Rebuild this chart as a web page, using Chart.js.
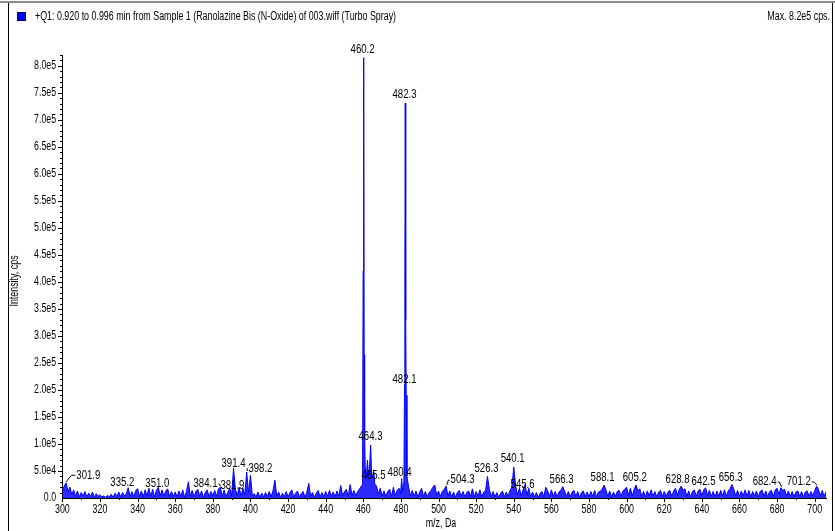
<!DOCTYPE html>
<html>
<head>
<meta charset="utf-8">
<script src="https://cdn.jsdelivr.net/npm/chart.js@4.4.1/dist/chart.umd.min.js"></script>
<style>
  html, body { margin: 0; padding: 0; background: #fff; }
  #wrap { position: relative; width: 835px; height: 531px; }
</style>
</head>
<body>
<div id="wrap"><canvas id="myChart" width="835" height="531"></canvas></div>
<script>
// spectrum baseline, one value per Da from 300 to 706, in thousands of cps
const noiseStart = 300;
const noise = [
    14, 22, 28, 12, 20, 6, 15, 3, 13, 2, 10, 4, 12, 2, 9, 3, 11, 1, 8, 3,
    6, 2, 4, 1, 5, 2, 7, 1, 9, 3, 11, 2, 10, 4, 8, 19, 3, 12, 2, 14,
    17, 3, 13, 2, 15, 4, 18, 3, 16, 2, 14, 20, 4, 15, 3, 13, 17, 2, 12, 3,
    11, 2, 13, 3, 15, 1, 12, 30, 3, 14, 2, 12, 16, 3, 13, 1, 10, 15, 2, 12,
    4, 14, 3, 17, 20, 3, 15, 2, 11, 18, 4, 55, 16, 5, 20, 3, 18, 6, 48, 9,
    42, 4, 8, 2, 11, 1, 9, 2, 10, 3, 12, 2, 14, 33, 3, 11, 1, 9, 2, 12,
    2, 10, 15, 1, 9, 13, 2, 8, 12, 1, 11, 27, 3, 10, 1, 9, 14, 2, 10, 3,
    12, 3, 14, 4, 11, 2, 13, 3, 23, 4, 12, 16, 3, 25, 5, 14, 4, 12, 17, 22,
    10, 60, 70, 55, 98, 52, 30, 22, 8, 18, 4, 13, 3, 12, 16, 3, 20, 5, 14, 18,
    35, 20, 300, 45, 22, 4, 14, 3, 13, 2, 11, 18, 3, 12, 2, 10, 14, 20, 24, 5,
    13, 3, 12, 16, 22, 4, 13, 2, 11, 1, 10, 14, 3, 12, 2, 10, 13, 3, 17, 2,
    12, 3, 15, 2, 11, 14, 40, 16, 3, 12, 2, 10, 1, 9, 13, 2, 11, 3, 14, 20,
    57, 22, 6, 18, 4, 16, 25, 5, 18, 2, 11, 2, 10, 1, 9, 12, 2, 20, 13, 3,
    15, 3, 12, 2, 11, 14, 21, 13, 3, 12, 2, 11, 14, 3, 12, 1, 10, 13, 2, 11,
    2, 12, 3, 14, 2, 11, 13, 16, 24, 15, 3, 13, 2, 11, 3, 12, 14, 3, 13, 16,
    20, 5, 18, 4, 16, 24, 13, 17, 3, 12, 2, 13, 4, 15, 3, 12, 2, 11, 14, 3,
    12, 3, 11, 14, 3, 13, 18, 5, 16, 22, 14, 17, 3, 13, 2, 12, 15, 3, 13, 16,
    4, 15, 19, 5, 14, 3, 12, 2, 13, 3, 14, 4, 15, 3, 13, 17, 25, 16, 4, 14,
    3, 13, 4, 15, 3, 14, 2, 12, 4, 13, 2, 12, 15, 3, 13, 2, 12, 14, 3, 15,
    18, 6, 19, 14, 16, 4, 13, 3, 12, 2, 11, 13, 3, 12, 2, 11, 13, 3, 12, 4,
    14, 22, 16, 4, 14, 3, 12
];

// profile points of the big peaks (m/z, thousands of cps)
const peakMz = [459.6, 459.9, 460.2, 460.45, 460.7, 461.0, 461.6, 462.2, 462.8, 463.3, 463.9, 464.4, 465.0, 465.5, 466.1,
    479.8, 480.4, 480.9, 481.6, 481.9, 482.1, 482.3, 482.55, 482.8, 483.2];
const peakK = [25, 420, 815, 265, 120, 60, 35, 70, 40, 55, 98, 45, 38, 52, 26,
    8, 36, 12, 30, 210, 420, 731, 330, 190, 40];

// peak labels: text, where the label sits (m/z, thousands of cps at its bottom)
const labelText = ["460.2", "482.3", "482.1", "464.3", "465.5", "480.4", "301.9", "335.2", "351.0", "384.1", "381.9",
    "391.4", "398.2", "504.3", "526.3", "540.1", "545.6", "566.3", "588.1", "605.2", "628.8", "642.5", "656.3", "682.4", "701.2"];
const labelMz = [459.6, 481.9, 481.9, 463.8, 465.4, 479.3, 313.8, 331.9, 350.5, 376.1, 390.4,
    391.0, 405.3, 512.8, 525.5, 539.4, 544.7, 565.4, 587.2, 604.3, 627.1, 640.9, 655.3, 673.4, 691.5];
const labelK = [819, 735, 207, 102, 31, 35, 31, 17, 15, 15, 11,
    52, 44, 22, 44, 61, 13, 22, 26, 26, 22, 18.5, 26, 18.5, 18.5];

// labels that point at their peak with a small leader line
const leaderLabel = ["301.9", "384.1", "398.2", "504.3", "682.4", "701.2"];
const leaderMz = [301.9, 384.1, 398.2, 504.3, 682.4, 701.2];
const leaderK = [28, 20, 48, 22, 19, 22];

const xTicks = [300, 320, 340, 360, 380, 400, 420, 440, 460, 480, 500, 520, 540, 560, 580, 600, 620, 640, 660, 680, 700];
const yTicks = [0, 50000, 100000, 150000, 200000, 250000, 300000, 350000, 400000, 450000, 500000,
    550000, 600000, 650000, 700000, 750000, 800000];
const yTickLabels = ["0.0", "5.0e4", "1.0e5", "1.5e5", "2.0e5", "2.5e5", "3.0e5", "3.5e5", "4.0e5", "4.5e5", "5.0e5",
    "5.5e5", "6.0e5", "6.5e5", "7.0e5", "7.5e5", "8.0e5"];

const FONT = '"Liberation Sans", Arial, sans-serif';

let points = [];
noise.forEach(function (k, i) {
    let mz = noiseStart + i;
    let nearPeak = peakMz.some(p => Math.abs(p - mz) < 0.55);
    if (!nearPeak) {
        points.push({ x: mz, y: k * 1000 });
    }
});
peakMz.forEach(function (mz, i) {
    points.push({ x: mz, y: peakK[i] * 1000 });
});
points.sort((a, b) => a.x - b.x);

// narrow text helper, the original uses a condensed face
function narrowText(ctx, text, x, y, align, size, sx) {
    ctx.save();
    ctx.font = size + 'px ' + FONT;
    ctx.translate(x, y);
    ctx.scale(sx, 1);
    ctx.textAlign = align;
    ctx.fillText(text, 0, 0);
    ctx.restore();
}

// frame, header, axis texts, ticks and peak labels
const decorations = {
    id: 'decorations',
    afterDraw(chart) {
        const ctx = chart.ctx;
        const xs = chart.scales.x;
        const ys = chart.scales.y;
        const area = chart.chartArea;
        ctx.save();

        // frame
        ctx.strokeStyle = '#8a8a8a';
        ctx.lineWidth = 2;
        ctx.beginPath();
        ctx.moveTo(0, 2);
        ctx.lineTo(835, 2);
        ctx.stroke();
        ctx.strokeStyle = '#000';
        ctx.lineWidth = 1;
        ctx.beginPath();
        ctx.moveTo(8.5, 3);
        ctx.lineTo(8.5, 531);
        ctx.moveTo(832.5, 3);
        ctx.lineTo(832.5, 531);
        ctx.stroke();

        // header
        ctx.fillStyle = '#0000ff';
        ctx.fillRect(17, 12, 9, 9);
        ctx.strokeStyle = '#000060';
        ctx.strokeRect(17.5, 12.5, 8, 8);
        ctx.fillStyle = '#000';
        ctx.textBaseline = 'middle';
        narrowText(ctx, '+Q1: 0.920 to 0.996 min from Sample 1 (Ranolazine Bis (N-Oxide) of 003.wiff (Turbo Spray)', 35, 17, 'left', 12, 0.74);
        narrowText(ctx, 'Max. 8.2e5 cps.', 830, 17, 'right', 12, 0.74);

        // tick labels
        xTicks.forEach(function (v) {
            narrowText(ctx, String(v), xs.getPixelForValue(v), 510, 'center', 12, 0.74);
        });
        yTicks.forEach(function (v, i) {
            narrowText(ctx, yTickLabels[i], area.left - 6, ys.getPixelForValue(v), 'right', 12, 0.73);
        });

        // axis titles
        narrowText(ctx, 'm/z, Da', 441, 524, 'center', 12, 0.74);
        ctx.save();
        ctx.translate(15, 281);
        ctx.rotate(-Math.PI / 2);
        narrowText(ctx, 'Intensity, cps', 0, 0, 'center', 12, 0.74);
        ctx.restore();

        // major and minor ticks
        ctx.strokeStyle = '#000';
        ctx.lineWidth = 1;
        ctx.beginPath();
        for (let v = 10000; v <= 820000; v += 10000) {
            let len = v % 50000 === 0 ? 4 : 2;
            let y = Math.round(ys.getPixelForValue(v)) + 0.5;
            ctx.moveTo(area.left, y);
            ctx.lineTo(area.left - len, y);
        }
        for (let m = 300; m <= 706; m += 10) {
            let len = m % 20 === 0 ? 4 : 2;
            let x = Math.round(xs.getPixelForValue(m)) + 0.5;
            ctx.moveTo(x, area.bottom);
            ctx.lineTo(x, area.bottom + len);
        }
        ctx.stroke();

        // peak labels
        ctx.textBaseline = 'bottom';
        labelText.forEach(function (t, i) {
            let x = xs.getPixelForValue(labelMz[i]);
            let y = ys.getPixelForValue(labelK[i] * 1000);
            narrowText(ctx, t, x, y, 'center', 12, 0.8);
            let li = leaderLabel.indexOf(t);
            if (li >= 0) {
                ctx.font = '12px ' + FONT;
                let w = ctx.measureText(t).width * 0.8;
                let px = xs.getPixelForValue(leaderMz[li]);
                let py = ys.getPixelForValue(leaderK[li] * 1000);
                let sx = px < x ? x - w / 2 - 1 : x + w / 2 + 1;
                let sy = y - 6;
                ctx.beginPath();
                ctx.moveTo(sx, sy);
                ctx.lineTo(sx + (px - sx) * 0.4, sy);
                ctx.lineTo(px, py - 1);
                ctx.stroke();
            }
        });
        ctx.restore();
    }
};

var ctx = document.getElementById('myChart').getContext('2d');

var myChart = new Chart(ctx, {
    type: 'line',
    data: {
        datasets: [{
            label: 'Q1',
            data: points,
            borderColor: '#0000ff',
            backgroundColor: 'rgba(20, 20, 255, 0.9)',
            borderWidth: 1,
            pointRadius: 0,
            tension: 0,
            fill: 'origin'
        }]
    },
    options: {
        responsive: false,
        animation: false,
        devicePixelRatio: 1,
        parsing: false,
        layout: { padding: { left: 8, right: 9, top: 55, bottom: 0 } },
        plugins: {
            legend: { display: false },
            tooltip: { enabled: false }
        },
        scales: {
            x: {
                type: 'linear',
                min: 299.8,
                max: 706,
                afterBuildTicks: function (scale) {
                    scale.ticks = xTicks.map(v => ({ value: v }));
                },
                afterFit: function (scale) {
                    scale.height = 33;
                },
                ticks: { display: false },
                grid: { display: false },
                border: { color: '#000', width: 1 }
            },
            y: {
                min: 0,
                max: 820000,
                afterBuildTicks: function (scale) {
                    scale.ticks = yTicks.map(v => ({ value: v }));
                },
                afterFit: function (scale) {
                    scale.width = 54;
                },
                ticks: { display: false },
                grid: { display: false },
                border: { color: '#000', width: 1 }
            }
        }
    },
    plugins: [decorations]
});
</script>
</body>
</html>
